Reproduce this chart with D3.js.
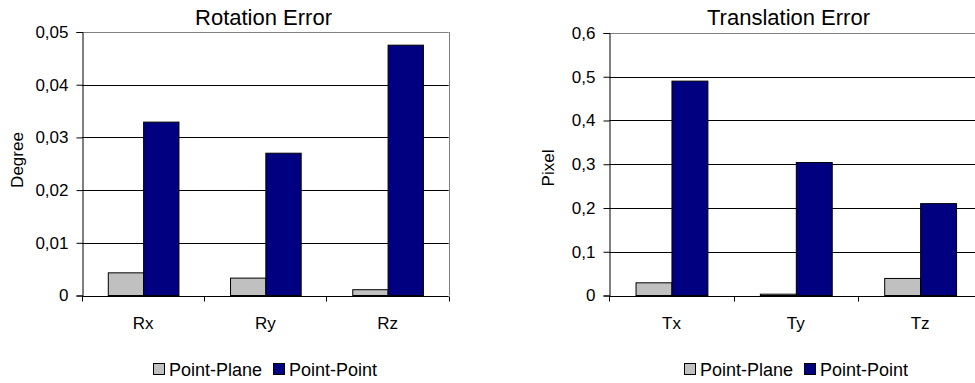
<!doctype html>
<html>
<head>
<meta charset="utf-8">
<script src="https://d3js.org/d3.v7.min.js"></script>
<style>
  body { margin: 0; background: #fff; }
  svg { display: block; font-family: "Liberation Sans", Arial, sans-serif; }
</style>
</head>
<body>
<svg id="svg1" width="975" height="383"></svg>
<script>
// --- data ---
const seriesNames = ["Point-Plane", "Point-Point"];
const seriesColors = ["#c0c0c0", "#000080"];

const rotCats = ["Rx", "Ry", "Rz"];
const rotPlane = [0.0043, 0.0033, 0.0011];
const rotPoint = [0.0329, 0.0270, 0.0475];
const rotTicks = [0, 0.01, 0.02, 0.03, 0.04, 0.05];
const rotTickLabels = ["0", "0,01", "0,02", "0,03", "0,04", "0,05"];

const transCats = ["Tx", "Ty", "Tz"];
const transPlane = [0.029, 0.003, 0.039];
const transPoint = [0.490, 0.304, 0.210];
const transTicks = [0, 0.1, 0.2, 0.3, 0.4, 0.5, 0.6];
const transTickLabels = ["0", "0,1", "0,2", "0,3", "0,4", "0,5", "0,6"];

const svg = d3.select("#svg1");

function drawChart(o) {
  const g = svg.append("g");
  const rows = o.cats.map((c, i) => ({ cat: c, vals: [o.plane[i], o.point[i]] }));

  const x = d3.scaleBand().domain(o.cats).range([o.left, o.right]).padding(0);
  const xs = d3.scaleBand().domain(seriesNames).range([0, x.bandwidth()])
    .paddingInner(0).paddingOuter(0.73);
  const y = d3.scaleLinear().domain([0, o.max]).range([o.bottom, o.top]);

  // gridlines
  g.append("g").selectAll("line")
    .data(o.ticks.filter(t => t > 0))
    .join("line")
    .attr("x1", o.left).attr("x2", o.right)
    .attr("y1", d => Math.round(y(d)) + 0.5).attr("y2", d => Math.round(y(d)) + 0.5)
    .attr("stroke", (d, i, n) => i === n.length - 1 ? "#808080" : "#000")
    .attr("stroke-width", 1);

  // right border of plot area
  g.append("line")
    .attr("x1", Math.round(o.right) + 0.5).attr("x2", Math.round(o.right) + 0.5)
    .attr("y1", o.top).attr("y2", o.bottom)
    .attr("stroke", "#808080");

  // bars
  g.append("g").selectAll("g")
    .data(rows)
    .join("g")
    .attr("transform", d => `translate(${x(d.cat)},0)`)
    .selectAll("rect")
    .data(d => d.vals.map((v, i) => ({ key: seriesNames[i], v: v, i: i })))
    .join("rect")
    .attr("x", d => xs(d.key) + 0.5)
    .attr("width", xs.bandwidth())
    .attr("y", d => y(d.v))
    .attr("height", d => y(0) - y(d.v))
    .attr("fill", d => seriesColors[d.i])
    .attr("stroke", "#000")
    .attr("stroke-width", 1);

  // y axis
  const ya = g.append("g")
    .attr("transform", `translate(${Math.round(o.left) + 0.5},0)`)
    .call(d3.axisLeft(y).tickValues(o.ticks).tickSize(6).tickPadding(8)
      .tickFormat((d, i) => o.tickLabels[i]));
  ya.select(".domain").attr("stroke", "#000");
  ya.selectAll(".tick line").attr("stroke", "#000");
  ya.selectAll(".tick text").attr("font-size", 17).attr("fill", "#000")
    .attr("font-family", "Liberation Sans, Arial, sans-serif");

  // x axis
  const xa = g.append("g")
    .attr("transform", `translate(0,${Math.round(o.bottom) + 0.5})`);
  xa.append("line")
    .attr("x1", o.left).attr("x2", o.right)
    .attr("stroke", "#000");
  xa.selectAll(".xt")
    .data(d3.range(o.cats.length + 1))
    .join("line")
    .attr("class", "xt")
    .attr("x1", i => Math.round(o.left + i * x.step()) + 0.5)
    .attr("x2", i => Math.round(o.left + i * x.step()) + 0.5)
    .attr("y1", 0).attr("y2", 5)
    .attr("stroke", "#000");
  xa.selectAll("text")
    .data(o.cats)
    .join("text")
    .attr("x", d => x(d) + x.bandwidth() / 2)
    .attr("y", 32)
    .attr("text-anchor", "middle")
    .attr("font-size", 17)
    .text(d => d);

  // title
  g.append("text")
    .attr("x", o.titleX).attr("y", 25)
    .attr("text-anchor", "middle")
    .attr("font-size", 22)
    .text(o.title);

  // axis title
  g.append("text")
    .attr("transform", `translate(${o.ytX},${o.ytY}) rotate(-90)`)
    .attr("text-anchor", "middle")
    .attr("font-size", 17)
    .text(o.yTitle);

  // legend
  const lg = g.append("g").attr("transform", `translate(${o.legX},363)`);
  const items = lg.selectAll("g")
    .data(seriesNames)
    .join("g")
    .attr("transform", (d, i) => `translate(${i * 120},0)`);
  items.append("rect")
    .attr("x", 0.5).attr("y", 0.5)
    .attr("width", 11).attr("height", 11)
    .attr("fill", (d, i) => seriesColors[i])
    .attr("stroke", "#000");
  items.append("text")
    .attr("x", 16).attr("y", 12.5)
    .attr("font-size", 18)
    .text(d => d);
}

drawChart({
  cats: rotCats, plane: rotPlane, point: rotPoint,
  ticks: rotTicks, tickLabels: rotTickLabels, max: 0.05,
  left: 82, right: 448.7, top: 32, bottom: 295.5,
  title: "Rotation Error", titleX: 263.5,
  yTitle: "Degree", ytX: 23, ytY: 160,
  legX: 153
});

drawChart({
  cats: transCats, plane: transPlane, point: transPoint,
  ticks: transTicks, tickLabels: transTickLabels, max: 0.6,
  left: 609.3, right: 982.3, top: 33, bottom: 295.5,
  title: "Translation Error", titleX: 788.5,
  yTitle: "Pixel", ytX: 554, ytY: 168,
  legX: 684
});
</script>
</body>
</html>
